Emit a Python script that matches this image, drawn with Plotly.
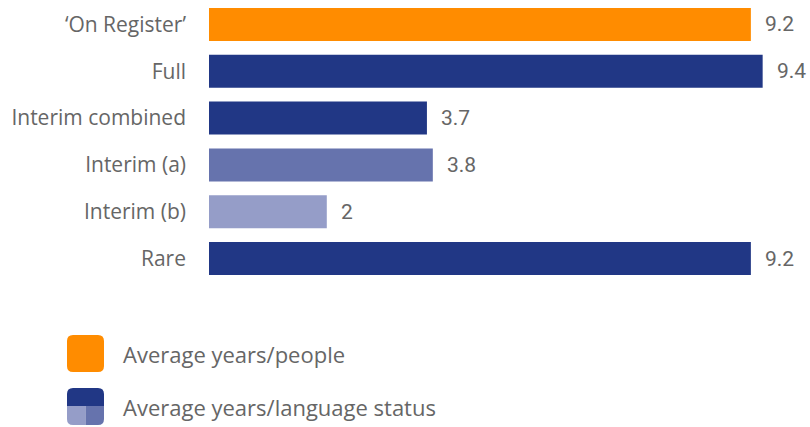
import plotly.graph_objects as go

# Average years per category
categories = ["\u2018On Register\u2019", "Full", "Interim combined", "Interim (a)", "Interim (b)", "Rare"]
values = [9.2, 9.4, 3.7, 3.8, 2, 9.2]
bar_colors = ["#FF8C00", "#213785", "#213785", "#6673AD", "#959DC8", "#213785"]
legend_labels = ["Average years/people", "Average years/language status"]

W, H = 810, 427
M_L, M_R, M_T, M_B = 209, 0, 1, 145
PW, PH = W - M_L - M_R, H - M_T - M_B

LABEL_FONT = dict(family="Open Sans, sans-serif", size=21, color="#666666")
LEGEND_FONT = dict(family="Open Sans, sans-serif", size=22, color="#666666")
VALUE_FONT = dict(family="Roboto, sans-serif", size=21, color="#666666")

ypos = list(range(len(categories)))

fig = go.Figure(
    go.Bar(
        x=values,
        y=ypos,
        orientation="h",
        marker=dict(color=bar_colors, line=dict(width=0)),
        width=0.705,
        hoverinfo="skip",
    )
)

# value labels just right of each bar
for v, y in zip(values, ypos):
    fig.add_annotation(
        x=v, y=y, xref="x", yref="y", text=f"{v:g}", showarrow=False,
        xanchor="left", xshift=12, font=VALUE_FONT,
    )


def px2paper(px, py):
    return (px - M_L) / PW, (M_T + PH - py) / PH


def rounded_path(x0, y0, x1, y1, r, corners=(True, True, True, True)):
    # corners: top-left, top-right, bottom-right, bottom-left (pixel coords, y down)
    tl, tr, br, bl = corners
    def P(x, y):
        a, b = px2paper(x, y)
        return f"{a:.5f},{b:.5f}"
    d = f"M{P(x0 + (r if tl else 0), y0)}"
    if tr:
        d += f" L{P(x1 - r, y0)} Q{P(x1, y0)} {P(x1, y0 + r)}"
    else:
        d += f" L{P(x1, y0)}"
    if br:
        d += f" L{P(x1, y1 - r)} Q{P(x1, y1)} {P(x1 - r, y1)}"
    else:
        d += f" L{P(x1, y1)}"
    if bl:
        d += f" L{P(x0 + r, y1)} Q{P(x0, y1)} {P(x0, y1 - r)}"
    else:
        d += f" L{P(x0, y1)}"
    if tl:
        d += f" L{P(x0, y0 + r)} Q{P(x0, y0)} {P(x0 + r, y0)}"
    else:
        d += f" L{P(x0, y0)}"
    return d + " Z"


def add_path(d, color):
    fig.add_shape(type="path", path=d, xref="paper", yref="paper",
                  fillcolor=color, line=dict(width=0), layer="above")


# legend icons
ix0, ix1, r = 67, 104, 6
y_a0, y_a1 = 335, 372
y_b0, y_b1 = 388, 425
ymid = 406
xmid = 85.5
add_path(rounded_path(ix0, y_a0, ix1, y_a1, r), "#FF8C00")
add_path(rounded_path(ix0, y_b0, ix1, ymid, r, (True, True, False, False)), "#213785")
add_path(rounded_path(ix0, ymid, xmid, y_b1, r, (False, False, False, True)), "#959DC8")
add_path(rounded_path(xmid, ymid, ix1, y_b1, r, (False, False, True, False)), "#6673AD")

for label, (ya, yb) in zip(legend_labels, [(y_a0, y_a1), (y_b0, y_b1)]):
    px, py = px2paper(121, (ya + yb) / 2)
    fig.add_annotation(x=px, y=py, xref="paper", yref="paper", text=label,
                       showarrow=False, xanchor="left", yanchor="middle",
                       font=LEGEND_FONT)

fig.update_layout(
    width=W, height=H,
    margin=dict(l=M_L, r=M_R, t=M_T, b=M_B, pad=0),
    paper_bgcolor="white", plot_bgcolor="white",
    showlegend=False,
    bargap=0.3,
    xaxis=dict(range=[0, PW / 58.9], visible=False, fixedrange=True),
    yaxis=dict(
        range=[len(categories) - 0.5, -0.5],
        tickmode="array", tickvals=ypos, ticktext=categories,
        showgrid=False, zeroline=False, showline=False, ticks="",
        ticklabelstandoff=22, tickfont=LABEL_FONT, fixedrange=True,
    ),
)

fig.write_html("out.html")
